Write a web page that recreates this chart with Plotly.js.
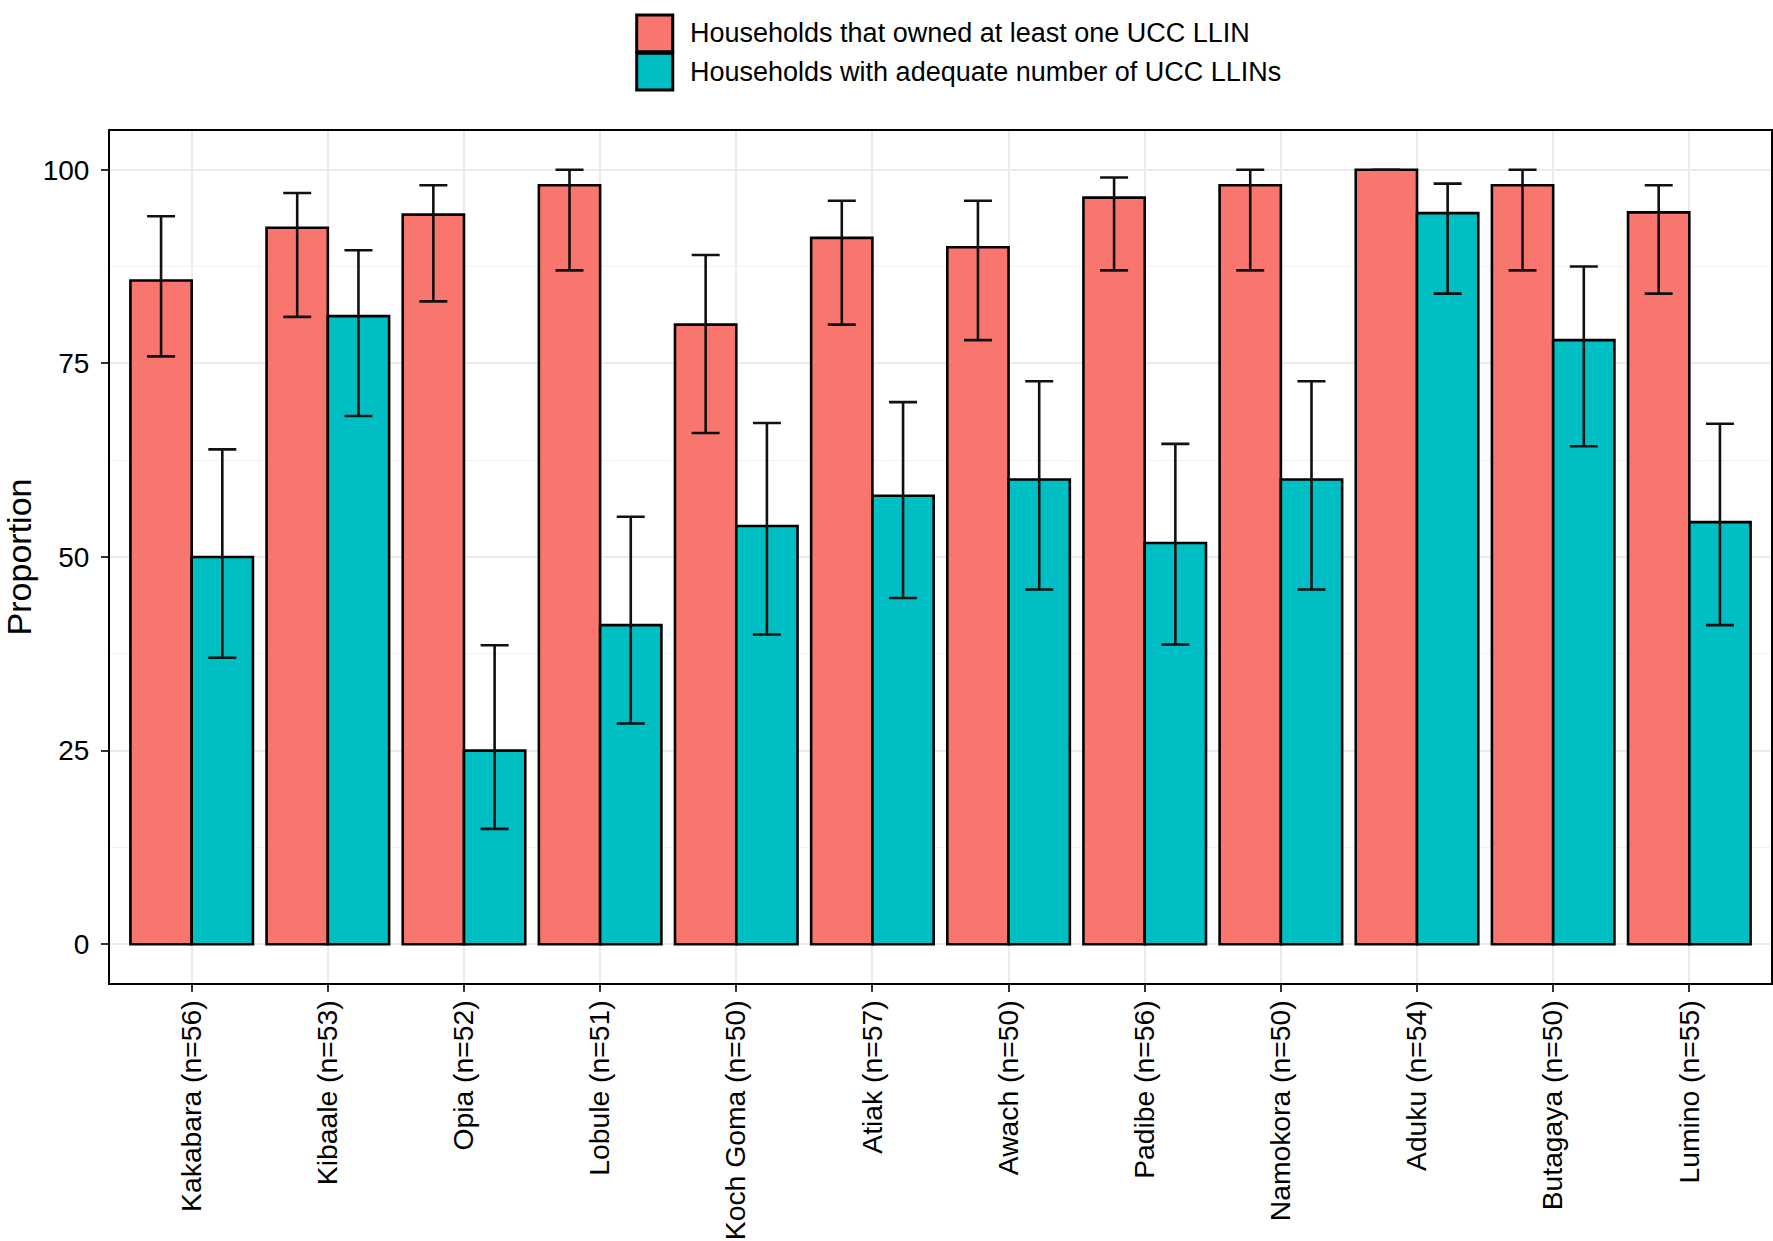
<!DOCTYPE html>
<html>
<head>
<meta charset="utf-8">
<script src="https://cdn.plot.ly/plotly-3.0.1.min.js"></script>
<style>html,body{margin:0;padding:0;background:#fff;}#chart{width:1773px;height:1241px;}</style>
</head>
<body>
<div id="chart"></div>
<script>
const categories = ["Kakabara (n=56)", "Kibaale (n=53)", "Opia (n=52)", "Lobule (n=51)", "Koch Goma (n=50)", "Atiak (n=57)", "Awach (n=50)", "Padibe (n=56)", "Namokora (n=50)", "Aduku (n=54)", "Butagaya (n=50)", "Lumino (n=55)"];

const seriesNames = ["Households that owned at least one UCC LLIN", "Households with adequate number of UCC LLINs"];
const seriesColors = ["#F8766D", "#00BFC4"];

const ownedValues = [85.7, 92.5, 94.2, 98.0, 80.0, 91.2, 90.0, 96.4, 98.0, 100.0, 98.0, 94.5];
const ownedUpper  = [94.0, 97.0, 98.0, 100.0, 89.0, 96.0, 96.0, 99.0, 100.0, 100.0, 100.0, 98.0];
const ownedLower  = [75.9, 81.0, 83.0, 87.0, 66.0, 80.0, 78.0, 87.0, 87.0, 100.0, 87.0, 84.0];

const adequateValues = [50.0, 81.1, 25.0, 41.2, 54.0, 57.9, 60.0, 51.8, 60.0, 94.4, 78.0, 54.5];
const adequateUpper  = [63.9, 89.6, 38.6, 55.2, 67.3, 70.0, 72.7, 64.6, 72.7, 98.2, 87.5, 67.2];
const adequateLower  = [37.0, 68.2, 14.9, 28.5, 40.0, 44.7, 45.8, 38.7, 45.8, 84.0, 64.3, 41.2];

const yTickValues = [0, 25, 50, 75, 100];

const FONT = "Liberation Sans, Arial, Helvetica, sans-serif";

function makeTrace(name, color, vals, hi, lo) {
  return {
    type: "bar",
    name: name,
    x: categories,
    y: vals,
    showlegend: false,
    marker: {color: color, line: {color: "#000000", width: 2.6}},
    error_y: {
      type: "data",
      symmetric: false,
      array: hi.map((h, i) => h - vals[i]),
      arrayminus: lo.map((l, i) => vals[i] - l),
      color: "#111111",
      thickness: 2.6,
      width: 14
    }
  };
}

const data = [
  makeTrace(seriesNames[0], seriesColors[0], ownedValues, ownedUpper, ownedLower),
  makeTrace(seriesNames[1], seriesColors[1], adequateValues, adequateUpper, adequateLower)
];

// custom legend (large keys like the original)
const keyX0 = 0.3171, keyX1 = 0.3388;
const keyY = [[1.0931, 1.1362], [1.0481, 1.0912]];
const shapes = seriesNames.map((n, i) => ({
  type: "rect", xref: "paper", yref: "paper",
  x0: keyX0, x1: keyX1, y0: keyY[i][0], y1: keyY[i][1],
  fillcolor: seriesColors[i], line: {color: "#000000", width: 3}, layer: "above"
}));
const annotations = seriesNames.map((n, i) => ({
  xref: "paper", yref: "paper", x: 0.3482, y: (keyY[i][0] + keyY[i][1]) / 2,
  xanchor: "left", yanchor: "middle", showarrow: false, text: n,
  font: {family: FONT, size: 27, color: "#000000"}
}));

const layout = {
  width: 1773,
  height: 1241,
  margin: {l: 110, r: 2, t: 131, b: 258},
  paper_bgcolor: "#ffffff",
  plot_bgcolor: "#ffffff",
  barmode: "group",
  bargap: 0.1,
  bargroupgap: 0,
  showlegend: false,
  font: {family: FONT, color: "#000000"},
  xaxis: {
    type: "category",
    range: [-0.6, 11.6],
    showline: true, mirror: true, linecolor: "#000000", linewidth: 2,
    ticks: "outside", ticklen: 7, tickwidth: 2, tickcolor: "#333333",
    showgrid: true, gridcolor: "#EBEBEB", gridwidth: 2,
    tickangle: -90,
    tickfont: {family: FONT, size: 28.3, color: "#000000"},
    ticklabelstandoff: -3,
    zeroline: false,
    automargin: false
  },
  yaxis: {
    range: [-5, 105],
    tickmode: "array", tickvals: yTickValues, ticktext: yTickValues.map(String),
    showline: true, mirror: true, linecolor: "#000000", linewidth: 2,
    ticks: "outside", ticklen: 7, tickwidth: 2, tickcolor: "#333333",
    showgrid: true, gridcolor: "#EBEBEB", gridwidth: 2,
    minor: {tickmode: "linear", tick0: 12.5, dtick: 25, showgrid: true, gridcolor: "#F2F2F2", gridwidth: 1.2, ticks: ""},
    tickfont: {family: FONT, size: 28, color: "#000000"},
    ticklabelstandoff: 6,
    zeroline: false,
    automargin: false,
    title: {text: "Proportion", font: {family: FONT, size: 34, color: "#000000"}, standoff: 14}
  },
  shapes: shapes,
  annotations: annotations
};

Plotly.newPlot("chart", data, layout, {displayModeBar: false, responsive: false});
</script>
</body>
</html>
